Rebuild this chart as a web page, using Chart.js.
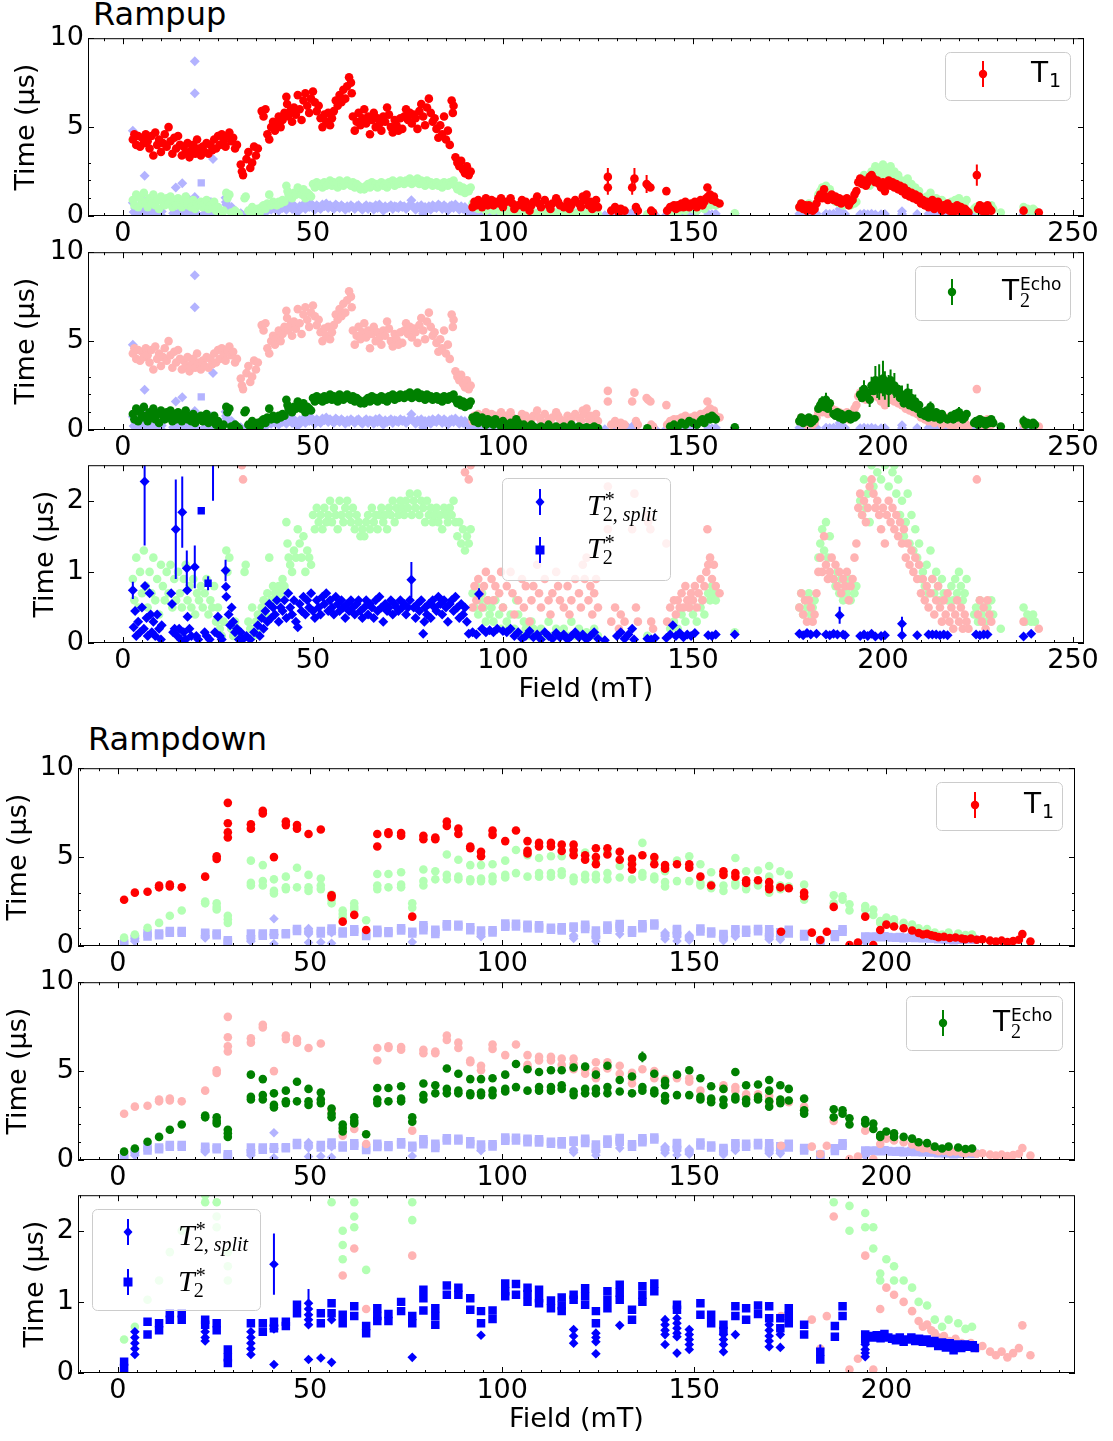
<!DOCTYPE html>
<html>
<head>
<meta charset="utf-8">
<script src="https://cdn.jsdelivr.net/npm/chart.js@4.4.0/dist/chart.umd.min.js"></script>
<style>
  body { margin: 0; width: 1113px; height: 1441px; overflow: hidden; background: #fff; position: relative; }
  canvas { position: absolute; left: 0; }
  .ttl { position: absolute; font-family: "DejaVu Sans"; font-size: 32px; color: #000; line-height: 1; }
</style>
</head>
<body>
<div class="ttl" style="left:93px; top:-2px">Rampup</div>
<div class="ttl" style="left:88px; top:723px">Rampdown</div>
<script>
// ---- data: [field (mT), time (us), error (optional)] ----
const t1Up = [[2.6,4.3],[3,4.6],[3.5,4.0],[4,4.5],[4.5,3.9],[5,4.4],[5.5,4.1],[6,4.6],[6.5,4.2],[7,3.8],[7.5,4.5],[8,3.4],[8.5,4.7],[9,4.0],[9.5,4.3],[10,3.6],[10.5,4.1],[11,4.6],[11.5,3.9],[12,5.0],[12.5,4.2],[13,3.5],[13.5,4.4],[14,3.8],[14.5,4.5],[15,4.0],[15.5,3.4],[16,3.9],[16.5,3.6],[17,4.1],[17.5,3.3],[18,3.7],[18.5,4.0],[19,3.5],[19.5,4.3],[20,3.8],[20.5,3.4],[21,3.9],[21.5,3.6],[22,4.1],[22.5,3.5],[23,4.0],[23.5,3.7],[24,4.3],[24.5,3.8],[25,4.5],[25.5,4.0],[26,4.6],[26.5,4.2],[27,3.9],[27.5,4.5],[28,4.7],[28.5,4.2],[29,4.4],[29.5,3.8],[30,4.0],[31,2.9],[31.3,2.5],[31.6,2.3],[32.5,3.2],[33,3.6],[33.5,2.7],[34,3.0],[34.5,3.9],[35,3.4],[35.5,3.8],[36.5,5.9],[37,5.6],[37.5,6.0],[38,4.6],[38.5,4.3],[39,5.0],[39.5,5.3],[40,4.8],[40.5,5.2],[41,5.6],[41.5,5.0],[42,5.4],[42.5,5.8],[43,6.7],[43.2,6.3],[43.5,5.6],[44,5.9],[44.5,5.3],[45,6.1],[45.5,5.7],[46,6.8],[46.5,6.0],[47,5.4],[47.5,6.5],[48,6.9],[48.5,6.2],[49,5.8],[49.5,6.6],[50,7.0],[50.5,6.4],[51,5.9],[51.5,6.2],[52,5.5],[52.5,5.0],[53,5.7],[53.5,5.3],[54,5.8],[54.5,5.1],[55,5.5],[55.5,5.9],[56,6.5],[56.5,6.2],[57,6.8],[57.5,6.4],[58,7.1],[58.5,6.6],[59,7.3],[59.5,7.8],[60,7.5],[60.2,6.9],[60.5,5.6],[61,4.8],[61.5,5.3],[62,5.8],[62.5,5.1],[63,5.5],[63.5,6.0],[64,5.2],[64.5,5.6],[65,4.6],[65.5,5.4],[66,5.8],[66.5,5.0],[67,5.5],[67.5,5.2],[68,4.8],[68.5,5.6],[69,5.3],[69.5,6.1],[70,5.7],[70.5,5.0],[71,4.7],[71.5,5.4],[72,5.1],[72.5,4.8],[73,5.5],[73.5,4.9],[74,5.6],[74.5,6.0],[75,5.4],[75.5,5.8],[76,5.2],[76.5,5.7],[77,5.5],[77.5,4.9],[78,5.9],[78.5,6.3],[79,5.6],[79.5,5.1],[80,6.1],[80.5,6.6],[81,5.8],[81.5,5.3],[82,5.5],[82.5,4.9],[83,4.4],[83.5,5.1],[84,4.6],[84.5,5.6],[85,4.3],[85.5,4.8],[86,4.0],[86.5,6.5],[86.8,5.8],[87,6.2],[87.5,3.3],[88,3.0],[88.5,2.8],[89,3.1],[89.5,2.6],[90,2.4],[90.5,2.8],[91,2.3],[91.5,2.5],
  [92,0.5],[92.5,0.8],[93,0.6],[93.5,0.9],[94,0.7],[94.5,0.5],[95,0.8],[95.5,1.0],[96,0.6],[97,0.9],[97.5,0.6],[98,0.8],[99,0.7],[99.5,1.0],[100,0.5],[101,0.8],[102,1.0],[102.5,0.7],[103,0.4],[104,0.6],[105,0.9],[105.5,0.5],[106,0.8],[107,0.3],[107.5,0.6],[108,0.8],[109,1.1],[109.5,0.7],[110,0.5],[111,0.9],[112,0.6],[112.5,0.4],[113,0.7],[114,1.0],[114.5,0.8],[115,0.6],[116,0.5],[117,0.8],[117.5,0.4],[118,0.6],[119,0.9],[120,0.7],[120.5,0.5],[121,1.1],[121.5,0.9],[122,1.2],[122.5,0.6],[123,0.8],[123.5,0.4],[124,0.7],[124.5,0.9],[125,0.5],
  [127.6,2.2,0.5],[127.6,1.6,0.4],[128.5,0.3],[129.5,0.5],[130.5,0.2],[131,0.4],[132,0.3],[134,1.6,0.4],[134.6,2.1,0.6],[135,0.5],[135.5,0.3],[137.8,1.8,0.5],[138.2,1.7],[138.8,1.6],[139,0.3],[139.5,0.2],[143,1.4],[143.2,0.3],[144,0.5],[145,0.6],[145.5,0.4],[146,0.6],[146.5,0.5],[147,0.7],[147.5,0.5],[148,0.8],[148.5,0.6],[149,0.5],[149.5,0.7],[150,0.6],[150.5,0.8],[151,0.5],[151.5,0.7],[152,0.9],[152.5,0.6],[153,0.8],[153.5,1.0],[153.8,1.6],[154,1.1],[154.5,1.2],[155,0.9],[155.5,1.1],[156,0.8],[157,0.7],
  [178,0.5],[178.5,0.7],[179,0.4],[179.5,0.6],[180,0.3],[180.5,0.6],[181,0.5],[181.5,0.3],[182,0.4],[182.5,0.7],[183,1.0],[183.5,1.2],[184,1.0],[184.5,1.5],[185,1.1],[185.5,0.9],[186,1.0],[186.5,1.2],[187,0.9],[187.5,1.1],[188,0.8],[188.5,1.0],[189,0.7],[189.5,0.9],[190,0.8],[190.5,1.0],[191,0.6],[191.5,0.8],[192,0.9],[192.5,1.2],[193,1.4],[193.5,1.9],[194,2.1],[194.5,1.8],[195,2.0],[195.5,1.7],[196,1.9],[196.5,2.2],[197,2.3],[197.5,2.1],[198,1.9],[198.5,2.0],[199,1.8],[199.5,1.6],[200,1.9],[200.5,1.4],[201,1.8],[201.5,2.0],[202,1.7],[202.5,1.9],[203,1.6],[203.5,1.8],[204,1.5],[204.5,1.7],[205,1.4],[205.5,1.6],[206,1.2],[206.5,1.4],[207,1.1],[207.5,1.3],[208,1.0],[208.5,1.2],[209,0.9],[209.5,1.1],[210,0.7],[210.5,0.9],[211,0.6],[211.5,0.8],[212,0.5],[212.5,0.7],[213,0.9],[213.5,0.4],[214,0.6],[214.5,0.8],[215,0.5],[215.5,0.3],[216,0.6],[216.5,0.4],[217,0.7],[217.5,0.3],[218,0.5],[218.5,0.2],[219,0.4],[219.5,0.6],[220,0.3],[220.5,0.5],[221,0.2],[221.5,0.4],[222,0.3],[222.5,0.2],[224.7,2.3,0.6],[225,0.4],[225.5,0.6],[226,0.3],[226.5,0.5],[227,0.2],[227.5,0.6],[228,0.4],[228.5,0.3],[237,0.3],[241,0.2]];

const echoUp = [[2.6,0.9],[3,0.6],[3.5,1.2],[4,0.5],[4.5,1.0],[5,0.7],[5.5,1.3],[6,0.8],[6.5,0.5],[7,1.0],[7.5,0.7],[8,1.2],[8.5,0.6],[9,0.9],[9.5,0.4],[10,1.1],[10.5,0.8],[11,0.6],[11.5,1.0],[12,0.7],[12.5,1.1],[13,0.5],[13.5,0.9],[14,0.6],[14.5,1.0],[15,0.7],[15.5,0.5],[16,0.9],[16.5,1.1],[17,0.6],[17.5,0.8],[18,0.5],[18.5,0.9],[19,0.4],[19.5,0.7],[20,0.6],[20.5,0.8],[21,0.5],[21.5,0.7],[22,0.9],[22.5,0.4],[23,0.6],[23.5,0.5],[24,0.8],[24.5,0.3],[25,0.5],[25.5,0.2],[26,0.1],[26.5,0.3],[27.2,1.3],[27.5,1.0],[28,1.2],[28.5,0.2],[29,0.1],[29.5,0.3],[30,0.2],[30.5,0.1],[32,1.0],[32.3,1.1],[33,0.3],[33.5,0.2],[34,0.5],[34.5,0.1],[35,0.3],[35.5,0.4],[36,0.2],[36.5,0.5],[37,0.6],[37.5,0.4],[38,0.7],[38.5,1.2],[39,0.6],[39.5,0.8],[40,0.7],[40.5,0.6],[41,0.8],[41.5,0.7],[42,0.9],[42.5,0.8],[43,1.7],[43.3,1.4],[43.6,1.2],[44,1.1],[44.5,1.0],[45,1.3],[45.5,1.2],[46,1.6],[46.5,1.4],[47,1.2],[47.5,1.5],[48,1.0],[48.5,1.3],[49,1.2],[49.5,1.1],[50,1.8],[50.5,1.6],[51,1.9],[51.5,1.7],[52,1.8],[52.5,1.6],[53,1.9],[53.5,1.7],[54,1.8],[54.5,2.0],[55,1.7],[55.5,1.9],[56,1.8],[56.5,1.6],[57,2.0],[57.5,1.8],[58,1.7],[58.5,1.9],[59,2.0],[59.5,1.8],[60,1.7],[60.5,1.9],[61,1.6],[61.5,1.8],[62,1.7],[62.5,1.5],[63,1.6],[63.5,1.5],[64,1.7],[64.5,1.8],[65,1.6],[65.5,1.9],[66,1.7],[66.5,1.8],[67,1.6],[67.5,1.8],[68,1.9],[68.5,1.7],[69,1.8],[69.5,1.6],[70,1.9],[70.5,1.8],[71,2.0],[71.5,1.7],[72,1.9],[72.5,1.8],[73,2.0],[73.5,1.9],[74,1.8],[74.5,2.0],[75,1.9],[75.5,2.1],[76,1.8],[76.5,2.0],[77,1.9],[77.5,2.1],[78,1.8],[78.5,2.0],[79,1.9],[79.5,1.7],[80,2.0],[80.5,1.8],[81,1.9],[81.5,1.7],[82,1.8],[82.5,1.9],[83,1.7],[83.5,1.8],[84,1.6],[84.5,1.9],[85,1.8],[85.5,1.7],[86,1.9],[86.5,1.8],[87,2.0],[87.5,1.7],[88,1.5],[88.5,1.7],[89,1.4],[89.5,1.6],[90,1.3],[90.5,1.5],[91,1.4],[91.5,1.6],
  [92,0.7],[92.5,0.5],[93,0.8],[93.5,0.4],[94,0.6],[94.5,0.7],[95,0.5],[95.5,0.3],[96,0.6],[96.5,0.4],[97,0.5],[97.5,0.3],[98,0.6],[99,0.4],[99.5,0.2],[100,0.5],[101,0.3],[101.5,0.2],[102,0.4],[103,0.2],[103.5,0.6],[104,0.4],[105,0.1],[105.5,0.3],[106,0.2],[107,0.1],[107.5,0.3],[108,0.2],[109,0.1],[110,0.2],[111,0.1],[112,0.3],[113,0.1],[114,0.2],[115,0.1],[116,0.2],[117,0.1],[118,0.3],[119,0.1],[120,0.2],[121,0.1],[122,0.15],[123,0.1],[124,0.2],[125,0.1],[138,0.1],[144,0.2],[145,0.3],[146,0.2],[147,0.4],[148,0.3],[149,0.5],[150,0.4],[151,0.3],[152,0.5],[152.5,0.6],[153,0.4],[154,0.7],[154.5,0.6],[155,0.8],[155.5,0.7],[156,0.6],[161,0.15],
  [178,0.5],[178.5,0.7],[179,0.4],[179.5,0.6],[180,0.5],[180.5,0.7],[181,0.4],[181.5,0.5],[182,0.6],[183,1.2],[183.5,1.4],[184,1.6,0.3],[184.5,1.3],[185,1.7,0.4],[185.5,1.2],[186,1.5],[187,0.9],[187.5,0.8],[188,1.0],[188.5,0.7],[189,0.9],[189.5,0.6],[190,0.8],[190.5,0.7],[191,0.9],[191.5,0.6],[192,0.8],[192.5,0.7],[193,0.8],[194,2.0,0.4],[194.5,1.8],[195,2.3,0.5],[195.5,1.9],[196,2.1],[196.5,1.7,0.4],[197,2.5,0.5],[197.5,2.2],[198,2.8,0.8],[198.5,2.4,0.6],[199,2.7,1.0],[199.5,2.3],[200,2.9,1.0],[200.5,2.5,0.8],[201,2.6],[201.5,2.2,0.9],[202,2.8,0.6],[202.5,2.4],[203,2.5,0.7],[203.5,2.1],[204,2.3],[204.5,1.8],[205,2.0,0.5],[205.5,1.5],[206,1.7],[206.5,2.1,0.5],[207,1.4],[207.5,1.8,0.5],[208,1.3],[208.5,1.6,0.4],[209,1.2],[209.5,1.4],[210,0.9],[210.5,1.0],[211,0.8],[211.5,1.1],[212,0.7],[212.5,1.3,0.3],[213,0.9],[213.5,0.7],[214,1.0],[214.5,0.8],[215,0.6],[215.5,0.9],[216,0.7],[217,0.6],[218,0.8],[218.5,0.6],[219,0.9],[219.5,0.7],[220,1.0,0.3],[220.5,0.8],[221,0.6],[221.5,0.7],[222,0.9],[224,0.4],[224.5,0.5],[225,0.3],[225.5,0.6],[226,0.4],[226.5,0.5],[227,0.3],[227.5,0.5],[228,0.4],[228.5,0.6],[229,0.4],[231,0.2],[237,0.5,0.3],[237.5,0.3],[238,0.4],[239,0.3],[239.5,0.4],[240,0.3]];

const splitUp = [[2.6,0.74,0.12],[2.6,4.8],[2.8,0.22],[3.2,0.45],[3.5,0.1],[4,0.3],[4.5,0.15],[5,0.5],[5.5,0.2],[5.7,2.27,0.9],[5.8,0.8],[6.2,0.35],[6.5,0.1],[7,0.7],[7.3,0.4],[7.6,0.15],[8,0.3],[8.5,0.1],[9,0.4],[9.5,0.2],[10,0.05],[10.2,0.25],[12.7,0.7],[12.9,0.55],[13.2,0.15],[13.6,0.2],[13.9,1.6,0.7],[14.3,0.1],[14.8,0.2],[15.2,0.05],[15.6,1.84,0.5],[16,0.15],[16.5,0.05],[16.8,1.05,0.25],[16.9,0.74],[17,0.37],[17.5,0.2],[18,0.1],[18.9,1.07,0.3],[18.9,8.7],[18.9,6.9],[19.3,0.1],[19.8,0.05],[21.5,0.15],[22,0.1],[22.8,0.05],[23.7,3.2,1.2],[24.2,0.15],[25,0.37],[25.5,0.1],[26,0.05],[27,1.02,0.15],[27.1,0.79],[27.2,0.65],[27.8,0.4],[28.2,0.25],[28.6,0.5],[29,0.3],[29.5,0.15],[30,0.2],[30.5,0.05],[31,0.15],[31.5,0.05],[32.5,0.1],[33.5,0.05],[34.5,0.15],[35.5,0.25],[36,0.1],[36.5,0.35],[37,0.2],[37.5,0.45],[38,0.3],[38.5,0.55],[39,0.35],[39.5,0.5],[40,0.4],[40.5,0.6],[41,0.3],[41.5,0.5],[42,0.45],[42.5,0.6],[43,0.35],[43.5,0.7],[44,0.5],[44.5,0.4],[45,0.6],[45.5,0.3],[46,0.22],[46.5,0.55],[47,0.45],[47.5,0.65],[48,0.4],[48.5,0.6],[49,0.5],[49.5,0.7],[50,0.45],[50.5,0.35],[51,0.6],[51.5,0.5],[52,0.4],[52.5,0.65],[53,0.55],[53.5,0.7],[54,0.45],[54.5,0.6],[55,0.5],[55.5,0.4],[56,0.65],[56.5,0.55],[57,0.45],[57.5,0.6],[58,0.5],[58.5,0.35],[59,0.55],[59.5,0.45],[60,0.6],[60.5,0.5],[61,0.4],[61.5,0.55],[62,0.6],[62.5,0.45],[63,0.35],[63.5,0.5],[64,0.6],[64.5,0.4],[65,0.55],[65.5,0.5],[66,0.35],[66.5,0.6],[67,0.45],[67.5,0.65],[68,0.5],[68.5,0.3],[69,0.55],[69.5,0.45],[70,0.5],[70.5,0.6],[71,0.4],[71.5,0.55],[72,0.5],[72.5,0.45],[73,0.6],[73.5,0.5],[74,0.55],[74.5,0.4],[75,0.5],[75.5,0.6],[75.9,0.89,0.25],[76.5,0.5],[77,0.35],[77.5,0.55],[78,0.45],[78.5,0.6],[79,0.13],[79.3,0.3],[79.5,0.5],[80,0.4],[80.5,0.55],[81,0.35],[81.5,0.6],[82,0.5],[82.5,0.45],[83,0.65],[83.5,0.55],[84,0.4],[84.5,0.6],[85,0.5],[85.5,0.3],[86,0.55],[86.5,0.6],[87,0.45],[87.5,0.65],[88,0.5],[88.5,0.35],[89,0.55],[89.5,0.4],[90,0.5],[90.5,0.3],[91,0.13],[92,0.15],[93,0.12],[93.7,0.69,0.08],[94.5,0.2],[95.5,0.15],[96.5,0.18],[97.5,0.15],[98.5,0.2],[100,0.17],[101,0.15],[102,0.2],[103,0.1],[104,0.15],[105,0.06],[106,0.1],[107,0.17],[108,0.08],[109,0.12],[110,0.05],[111,0.15],[112,0.1],[113,0.06],[114,0.14],[115,0.08],[116,0.12],[117,0.05],[118,0.1],[119,0.15],[120,0.08],[121,0.12],[122,0.05],[123,0.1],[124,0.15],[125,0.06],[126.8,0.04],[130,0.1],[131,0.15],[132,0.06],[133,0.12],[134,0.2],[134.5,0.05],[138,0.06],[139,0.05],[140,0.07],[143,0.07],[144,0.12],[144.7,0.25],[145.5,0.1],[146.5,0.14],[147.5,0.08],[148.5,0.12],[149.5,0.1],[150.5,0.14],[154,0.11],[155,0.1],[156,0.12],[161,0.12],[178,0.13],[179,0.11],[180,0.14],[181,0.12],[182.5,0.13],[185,0.12],[186,0.11],[187,0.13],[188,0.12],[188.6,0.39,0.12],[189.5,0.12],[190,0.11],[194,0.1],[195,0.12],[196,0.1],[197,0.13],[198,0.09],[199.5,0.1],[200.5,0.11],[205,0.27,0.1],[205,0.11],[209,0.11],[212,0.12],[213,0.12],[214,0.12],[215,0.11],[216,0.12],[217,0.11],[224.5,0.12],[225.5,0.11],[226.5,0.12],[227.5,0.12],[237,0.09],[239,0.13]];

const starUp = [[20.6,1.86,0.03],[22.4,0.84,0.1]];

const t1Down = [[1.6,2.6],[4.4,3.0],[7.7,3.05],[10.7,3.3],[10.7,3.4],[13.5,3.35],[13.5,3.45],[16.6,3.3],[22.7,3.9],[25.7,4.9],[25.7,5.05],[28.6,8.05],[28.6,6.9],[28.6,6.4],[28.6,6.1],[34.6,6.85],[34.6,6.6],[37.7,7.6],[37.7,7.45],[40.6,5.0],[43.7,7.0],[43.7,6.8],[46.6,6.8],[46.6,6.6],[49.6,6.3],[52.8,6.55],[55.6,2.85],[55.6,2.75],[58.5,1.37],[61.5,1.75],[64.6,0.9],[67.5,6.3],[67.5,5.6],[70.4,6.3],[70.4,6.4],[73.7,6.2],[73.7,6.35],[76.6,1.65],[79.5,6.2],[79.5,6.0],[82.6,6.1],[82.6,6.0],[85.6,7.0],[85.6,6.75],[88.6,6.6],[88.6,6.3],[91.7,5.6],[91.7,5.5],[94.5,5.3],[94.5,5.05],[97.5,6.5],[97.5,6.25],[100.8,5.9],[103.6,6.5],[106.6,5.9],[106.6,5.35],[106.6,5.2],[109.6,5.8],[109.6,5.6],[112.7,5.8],[112.7,5.6],[115.5,5.7],[115.5,5.35],[118.6,5.7],[118.6,5.4],[118.6,5.1],
  [121.6,5.1],[121.6,4.85],[124.4,5.5],[124.4,5.0],[124.4,4.6],[127.4,5.5],[127.4,5.15],[130.6,5.3],[130.6,4.85],[133.8,4.9],[133.8,4.6],[133.8,4.3],[136.5,5.1],[139.6,5.0],[139.6,4.6],[142.4,4.55],[142.4,4.35],[145.5,4.6],[148.7,4.6],[148.7,4.4],[151.6,3.9],[154.4,3.4],[157.6,4.2],[157.6,4.0],[160.7,4.1],[160.7,3.9],[163.5,3.7],[163.5,3.55],[166.6,3.7],[169.5,3.6],[169.5,3.35],[169.5,3.2],[172.4,3.3],[172.6,0.8],[174.6,3.25],[178.6,3.0],[178.6,2.8],[180.6,0.75],[182.8,0.34],[184.5,0.8],[186.3,2.2],[190.4,0.05],[192.6,0.2],[194.5,1.65],[196.6,0.05],[198.4,0.9],[200,1.2],[202,1.1],[204.5,1.0],[206.7,0.87],[208.4,0.73],[209.5,0.65],[210.6,0.68],[211.7,0.6],[212.6,0.56],[213.6,0.5],[215,0.52],[216.5,0.45],[218,0.48],[219.6,0.42],[220.5,0.38],[222,0.42],[223.5,0.35],[225,0.38],[227,0.3],[228.5,0.25],[230,0.3],[231.5,0.22],[233,0.28],[234.5,0.35],[235.4,0.67],[237.5,0.25]];

const echoDown = [[1.6,0.47],[4.4,0.65],[7.7,1.03],[10.7,1.3],[13.5,1.7],[16.6,2.0],[22.7,2.5],[22.7,2.4],[25.7,2.4],[25.7,2.2],[25.7,2.05],[28.6,1.7],[28.6,1.5],[28.6,1.3],[34.6,4.8],[34.6,3.55],[34.6,3.4],[37.7,4.55],[37.7,3.65],[37.7,3.4],[40.6,3.75],[40.6,3.1],[40.6,2.95],[43.7,3.9],[43.7,3.3],[43.7,3.2],[46.6,4.4],[46.6,3.3],[49.6,4.0],[49.6,3.3],[49.6,3.1],[52.8,3.8],[52.8,3.4],[52.8,3.2],[55.6,2.9],[55.6,2.6],[55.6,2.4],[58.5,2.0],[58.5,1.8],[58.5,1.6],[61.5,2.4],[61.5,2.2],[61.5,2.05],[64.6,1.45],[67.5,4.05],[67.5,3.4],[67.5,3.2],[70.4,4.05],[70.4,3.3],[73.7,4.15],[73.7,3.45],[73.7,3.3],[76.6,2.4],[76.6,2.15],[79.5,4.3],[79.5,3.65],[79.5,3.4],[82.6,4.2],[82.6,3.75],[85.6,5.15],[85.6,4.0],[85.6,3.75],[88.6,4.85],[88.6,3.9],[88.6,3.75],[91.7,4.55],[91.7,3.75],[91.7,3.65],[94.5,4.55],[94.5,3.8],[94.5,3.65],[97.5,4.6],[97.5,3.9],[97.5,3.65],[100.8,4.8],[100.8,4.0],[100.8,3.85],[103.6,5.4],[103.6,4.1],[106.6,5.1],[106.6,3.9],[109.6,4.95],[109.6,4.1],[109.6,3.9],[112.7,5.05],[112.7,4.1],[112.7,3.9],[115.5,5.05],[115.5,4.2],[115.5,4.0],[118.6,5.2],[118.6,3.85],[118.6,3.65],
  [121.6,5.25],[121.6,4.0],[121.6,3.75],[124.4,4.8],[124.4,4.0],[124.4,3.75],[127.4,5.3],[127.4,4.1],[127.4,3.75],[130.6,4.5],[130.6,3.85],[133.8,4.7],[133.8,3.75],[136.5,5.8,0.3],[136.5,4.1],[136.5,3.9],[139.6,4.85],[139.6,3.9],[139.6,3.75],[142.4,4.45],[142.4,4.2],[142.4,3.6],[142.4,3.35],[145.5,4.8],[145.5,3.65],[148.7,5.05],[148.7,3.65],[151.6,4.6],[151.6,3.55],[151.6,3.4],[154.4,4.15],[154.4,3.45],[154.4,3.25],[157.6,4.0],[157.6,3.4],[157.6,3.1],[160.7,4.95,0.2],[160.7,3.55],[160.7,3.4],[163.5,4.2],[163.5,3.4],[163.5,3.2],[166.6,4.25],[166.6,3.55],[166.6,3.4],[169.5,4.5],[169.5,3.9],[169.5,3.3],[169.5,3.0],[172.4,4.2],[172.4,3.4],[172.4,3.2],[174.6,4.0],[174.6,3.35],[178.6,3.45],[178.6,2.8],[178.6,2.6],[186.3,2.85],[186.3,2.4],[188.6,2.8],[188.6,2.6],[190.4,2.35],[190.4,2.0],[194.5,2.25],[194.5,2.05],[196.6,2.05],[196.6,1.75],[198.4,1.4],[198.4,1.3],[200,1.6],[202,1.5],[202,1.3],[204.5,1.3],[206.7,1.2],[208.4,1.0],[210.6,0.95],[212.6,0.75],[214.5,0.65],[216.2,0.75],[218.7,0.7],[220.6,0.62],[222.3,0.65]];

const splitDown = [[4.4,0.58],[4.4,0.5],[4.4,0.42],[4.4,0.34],[4.4,0.26],[22.7,0.58],[22.7,0.5],[22.7,0.45],[34.6,0.58],[34.6,0.5],[34.6,0.42],[34.6,0.34],[34.6,0.26],[40.6,1.53,0.43],[40.6,0.66],[40.6,0.62],[40.6,0.12],[49.6,0.98,0.2],[49.6,0.9],[49.6,0.82],[49.6,0.75],[49.6,0.68],[49.6,0.19],[52.8,0.21],[55.6,0.75],[55.6,0.15],[76.6,0.22],[94.5,0.53],[118.6,0.61],[118.6,0.52],[118.6,0.42],[124.4,0.56],[124.4,0.5],[124.4,0.44],[124.4,0.27],[130.6,0.67],[142.4,0.75],[142.4,0.68],[142.4,0.6],[142.4,0.54],[142.4,0.4],[145.5,0.77],[145.5,0.7],[145.5,0.63],[145.5,0.56],[145.5,0.51],[145.5,0.28],[148.7,0.61],[148.7,0.54],[148.7,0.47],[148.7,0.4],[148.7,0.33],[157.6,0.54],[157.6,0.47],[157.6,0.4],[157.6,0.3],[160.7,0.54],[169.5,0.68],[169.5,0.6],[169.5,0.52],[169.5,0.45],[169.5,0.37],[172.4,0.54],[172.4,0.36],[194.5,0.4],[194.5,0.33],[194.5,0.28],[194.5,0.23]];

const starDown = [[1.6,0.16],[1.6,0.07],[7.7,0.72],[7.7,0.54],[10.7,0.7],[10.7,0.6],[13.5,0.84],[13.5,0.75],[16.6,0.84],[16.6,0.75],[22.7,0.75],[22.7,0.68],[25.7,0.7],[25.7,0.6],[28.6,0.33],[28.6,0.22],[28.6,0.14],[34.6,0.7],[37.7,0.7],[37.7,0.58],[40.6,0.72],[40.6,0.63],[43.7,0.72],[43.7,0.66],[46.6,0.96],[46.6,0.84],[52.8,0.84],[52.8,0.7],[55.6,0.98],[55.6,0.84],[58.5,0.82],[58.5,0.7],[61.5,0.94],[61.5,0.8],[64.6,0.66],[64.6,0.56],[67.5,0.91],[67.5,0.8],[67.5,0.73],[70.4,0.83],[70.4,0.73],[73.7,1.0],[73.7,0.87],[76.6,0.8],[76.6,0.7],[79.5,1.17],[79.5,1.05],[79.5,0.88],[82.6,0.91],[82.6,0.8],[82.6,0.68],[85.6,1.23],[85.6,1.1],[88.6,1.2],[88.6,1.1],[91.7,1.05],[91.7,0.89],[94.5,0.87],[94.5,0.7],[97.5,0.88],[97.5,0.76],[100.8,1.26],[100.8,1.15],[100.8,1.08],[103.6,1.25],[103.6,1.1],[106.6,1.2],[106.6,1.11],[106.6,1.0],[109.6,1.17],[109.6,1.05],[109.6,0.98],[112.7,1.02],[112.7,0.91],[115.5,1.06],[115.5,0.95],[115.5,0.87],[118.6,1.1],[118.6,1.03],[121.6,1.19],[121.6,1.08],[121.6,0.96],[124.4,0.87],[124.4,0.7],[127.4,1.15],[127.4,1.03],[127.4,0.91],[130.6,1.24],[130.6,1.13],[130.6,1.03],[133.8,0.89],[133.8,0.75],[136.5,1.22],[136.5,1.1],[136.5,1.0],[139.6,1.26],[139.6,1.15],[145.5,0.96],[145.5,0.89],[151.6,0.98],[151.6,0.82],[154.4,0.82],[154.4,0.7],[157.6,0.68],[157.6,0.59],[160.7,0.94],[160.7,0.8],[163.5,0.91],[163.5,0.75],[166.6,0.95],[166.6,0.83],[169.5,0.94],[169.5,0.77],[172.4,0.77],[172.4,0.63],[174.6,0.91],[174.6,0.8],[174.6,0.7],[178.6,0.68],[178.6,0.54],[182.8,0.3,0.1],[182.8,0.19],[186.6,0.66],[186.6,0.51],[188.6,0.94],[188.6,0.8],[194.5,0.54],[194.5,0.47],[195.5,0.52],[196.5,0.5],[197.5,0.53],[198.5,0.49],[199.5,0.55],[200.5,0.5],[201.5,0.48],[202.5,0.46],[203.5,0.5],[204.5,0.44],[205.5,0.47],[206.5,0.5],[207.5,0.45],[208.5,0.48],[209.5,0.44],[210.5,0.47],[211.5,0.42],[212.5,0.45],[213.5,0.38],[214.5,0.43],[215.5,0.36],[216.5,0.42],[217.5,0.32],[218.5,0.4],[219.5,0.35],[220.5,0.4],[221.5,0.37],[222.5,0.39],[223,0.35]];

const xTickVals = [0, 50, 100, 150, 200, 250];
const yTicksTall = [0, 5, 10];
const yTicksShort = [0, 1, 2];

// ---- styling ----
const RED = '#ff0000', PINK = '#ffb3b3', GREEN = '#008000', LGREEN = '#b3ffb3', BLUE = '#0000ff', LBLUE = '#b3b3ff';
const FONT = '"DejaVu Sans"';
const SERIF = '"Liberation Serif"';

const ramps = {
  up:   { t1: t1Up, echo: echoUp, split: splitUp, star: starUp, rc: 4.3, rd: 5.0, rs: 5.2, xmin: -9.2, xmax: 252.9 },
  down: { t1: t1Down, echo: echoDown, split: splitDown, star: starDown, rc: 4.3, rd: 4.8, rs: 6.0, xmin: -10.4, xmax: 249.1 }
};

const panels = [
  { ramp: 'up', hi: 't1', L: 88, R: 1084, T: 38, B: 216, ymax: 10, yt: yTicksTall, ytx: 27,
    legend: { x: 945, y: 52, w: 125, h: 48, mx: 38, tx: 86, rows: [{ dy: 22, tb: 30, kind: 't1' }] } },
  { ramp: 'up', hi: 'echo', L: 88, R: 1084, T: 252, B: 430, ymax: 10, yt: yTicksTall, ytx: 27,
    legend: { x: 915, y: 266, w: 155, h: 54, mx: 37, tx: 87, rows: [{ dy: 26, tb: 34, kind: 'echo' }] } },
  { ramp: 'up', hi: 'star', L: 88, R: 1084, T: 465, B: 643, ymax: 2.5, yt: yTicksShort, ytx: 46, xtitle: true,
    legend: { x: 502, y: 478, w: 168, h: 102, mx: 38, tx: 85, rows: [{ dy: 24, tb: 37, kind: 'split' }, { dy: 72, tb: 80, kind: 'star' }] } },
  { ramp: 'down', hi: 't1', L: 78, R: 1075, T: 768, B: 946, ymax: 10, yt: yTicksTall, ytx: 19,
    legend: { x: 936, y: 782, w: 126, h: 48, mx: 39, tx: 88, rows: [{ dy: 23, tb: 31, kind: 't1' }] } },
  { ramp: 'down', hi: 'echo', L: 78, R: 1075, T: 982, B: 1160, ymax: 10, yt: yTicksTall, ytx: 19,
    legend: { x: 906, y: 996, w: 156, h: 54, mx: 37, tx: 87, rows: [{ dy: 27, tb: 35, kind: 'echo' }] } },
  { ramp: 'down', hi: 'star', L: 78, R: 1075, T: 1195, B: 1373, ymax: 2.5, yt: yTicksShort, ytx: 36, xtitle: true,
    legend: { x: 92, y: 1209, w: 168, h: 101, mx: 36, tx: 86, rows: [{ dy: 23, tb: 36, kind: 'split' }, { dy: 73, tb: 82, kind: 'star' }] } }
];

function ds(src, style, color, r, showErr) {
  return {
    data: src.map(p => ({ x: p[0], y: p[1] })),
    src: src, showErr: showErr,
    pointStyle: style, pointRadius: r, pointHoverRadius: r,
    backgroundColor: color, borderColor: color, borderWidth: 0,
    clip: 0
  };
}

function buildDatasets(p) {
  const s = ramps[p.ramp];
  const hi = p.hi;
  const t1 = ds(s.t1, 'circle', hi === 't1' ? RED : PINK, s.rc, hi === 't1');
  const echo = ds(s.echo, 'circle', hi === 'echo' ? GREEN : LGREEN, s.rc, hi === 'echo');
  const split = ds(s.split, 'rectRot', hi === 'star' ? BLUE : LBLUE, s.rd, hi === 'star');
  const star = ds(s.star, 'rect', hi === 'star' ? BLUE : LBLUE, s.rs, hi === 'star');
  // first dataset is drawn on top
  if (hi === 't1') return [t1, echo, split, star];
  if (hi === 'echo') return [echo, t1, split, star];
  return [split, star, t1, echo];
}

function drawMarker(ctx, kind, x, y, color) {
  ctx.fillStyle = color;
  ctx.beginPath();
  if (kind === 'split') { ctx.moveTo(x, y - 5); ctx.lineTo(x + 4.5, y); ctx.lineTo(x, y + 5); ctx.lineTo(x - 4.5, y); }
  else if (kind === 'star') { ctx.rect(x - 4.5, y - 4.5, 9, 9); }
  else { ctx.arc(x, y, 4.2, 0, Math.PI * 2); }
  ctx.fill();
}

function drawLabel(ctx, kind, x, y) {
  ctx.fillStyle = '#000';
  ctx.textBaseline = 'alphabetic';
  ctx.textAlign = 'left';
  if (kind === 't1') {
    ctx.font = '28px ' + FONT; ctx.fillText('T', x, y);
    const w = ctx.measureText('T').width;
    ctx.font = '19px ' + FONT; ctx.fillText('1', x + w + 1, y + 5);
  } else if (kind === 'echo') {
    ctx.font = '28px ' + FONT; ctx.fillText('T', x, y);
    const w = ctx.measureText('T').width;
    ctx.font = '17px ' + FONT; ctx.fillText('Echo', x + w + 1, y - 10);
    ctx.font = '20px ' + SERIF; ctx.fillText('2', x + w + 1, y + 7);
  } else {
    ctx.font = 'italic 30px ' + SERIF; ctx.fillText('T', x, y);
    const w = ctx.measureText('T').width;
    ctx.font = '20px ' + SERIF; ctx.fillText('*', x + w + 1, y - 9);
    ctx.fillText('2', x + w - 1, y + 6);
    if (kind === 'split') {
      const w2 = ctx.measureText('2').width;
      ctx.fillText(',', x + w - 1 + w2, y + 6);
      ctx.font = 'italic 20px ' + SERIF;
      ctx.fillText('split', x + w - 1 + w2 + 10, y + 6);
    }
  }
}

const deco = {
  id: 'deco',
  beforeDatasetDraw(chart, args) {
    const d = chart.data.datasets[args.index];
    if (!d.showErr) return;
    const { ctx, chartArea: a, scales: { x, y } } = chart;
    ctx.save();
    ctx.beginPath(); ctx.rect(a.left, a.top, a.right - a.left, a.bottom - a.top); ctx.clip();
    ctx.strokeStyle = d.backgroundColor; ctx.lineWidth = 2;
    d.src.forEach(p => {
      if (!p[2]) return;
      const px = x.getPixelForValue(p[0]);
      ctx.beginPath();
      ctx.moveTo(px, y.getPixelForValue(p[1] - p[2]));
      ctx.lineTo(px, y.getPixelForValue(p[1] + p[2]));
      ctx.stroke();
    });
    ctx.restore();
  },
  afterDraw(chart) {
    const p = chart.options.plugins.deco;
    const { ctx, chartArea: a, scales: { x, y } } = chart;
    ctx.save();
    ctx.strokeStyle = '#000'; ctx.lineWidth = 1;
    ctx.strokeRect(a.left + 0.5, a.top + 0.5, a.right - a.left - 1, a.bottom - a.top - 1);
    ctx.beginPath();
    for (let v = Math.ceil(x.min / 5) * 5; v <= x.max; v += 5) {
      const px = Math.round(x.getPixelForValue(v)) + 0.5;
      const len = v % 50 === 0 ? 6 : 3;
      ctx.moveTo(px, a.bottom); ctx.lineTo(px, a.bottom - len);
      ctx.moveTo(px, a.top); ctx.lineTo(px, a.top + len);
    }
    const yMinor = p.ymax > 5 ? [1, 2, 3] : [];
    p.yt.concat(yMinor).forEach(v => {
      const py = Math.round(y.getPixelForValue(v)) + 0.5;
      const len = p.yt.includes(v) ? 6 : 3;
      ctx.moveTo(a.left, py); ctx.lineTo(a.left + len, py);
      ctx.moveTo(a.right, py); ctx.lineTo(a.right - len, py);
    });
    ctx.stroke();
    // legend box
    const g = p.legend;
    const ox = g.x, oy = g.y - (p.T - 20);
    ctx.fillStyle = 'rgba(255,255,255,0.8)';
    ctx.strokeStyle = '#cccccc';
    ctx.beginPath(); ctx.roundRect(ox + 0.5, oy + 0.5, g.w, g.h, 5); ctx.fill(); ctx.stroke();
    g.rows.forEach(r => {
      const col = r.kind === 't1' ? RED : r.kind === 'echo' ? GREEN : BLUE;
      const mx = ox + g.mx, my = oy + r.dy;
      ctx.strokeStyle = col; ctx.lineWidth = 2;
      ctx.beginPath(); ctx.moveTo(mx, my - 13); ctx.lineTo(mx, my + 13); ctx.stroke();
      drawMarker(ctx, r.kind, mx, my, col);
      drawLabel(ctx, r.kind, ox + g.tx, oy + r.tb);
    });
    ctx.restore();
  }
};

panels.forEach(p => {
  const s = ramps[p.ramp];
  const bottomH = p.xtitle ? 75 : 45;
  const cv = document.createElement('canvas');
  cv.width = 1113;
  cv.height = (p.B - p.T) + 20 + bottomH;
  cv.style.top = (p.T - 20) + 'px';
  document.body.appendChild(cv);
  new Chart(cv, {
    type: 'scatter',
    data: { datasets: buildDatasets(p) },
    options: {
      responsive: false, animation: false, devicePixelRatio: 1,
      events: [],
      layout: { padding: { top: 20, right: 1113 - p.R, left: 0, bottom: 0 } },
      plugins: { legend: { display: false }, tooltip: { enabled: false }, deco: p },
      scales: {
        x: {
          type: 'linear', min: s.xmin, max: s.xmax,
          grid: { display: false, drawTicks: false }, border: { display: false },
          afterBuildTicks: sc => { sc.ticks = xTickVals.filter(v => v <= sc.max).map(v => ({ value: v })); },
          afterFit: sc => { sc.height = bottomH; },
          ticks: { color: '#000', font: { family: 'DejaVu Sans', size: 27 }, padding: 2, maxRotation: 0, autoSkip: false },
          title: { display: !!p.xtitle, text: 'Field (mT)', color: '#000', font: { family: 'DejaVu Sans', size: 27 }, padding: { top: 0, bottom: 11.8 } }
        },
        y: {
          type: 'linear', min: 0, max: p.ymax,
          grid: { display: false, drawTicks: false }, border: { display: false },
          afterBuildTicks: sc => { sc.ticks = p.yt.map(v => ({ value: v })); },
          afterFit: sc => { sc.width = p.L; },
          ticks: { color: '#000', font: { family: 'DejaVu Sans', size: 27 }, padding: 4 },
          title: { display: true, text: 'Time (μs)', color: '#000', font: { family: 'DejaVu Sans', size: 27 }, padding: { top: p.ytx - 16.2, bottom: 0 } }
        }
      }
    },
    plugins: [deco]
  });
});
</script>
</body>
</html>
